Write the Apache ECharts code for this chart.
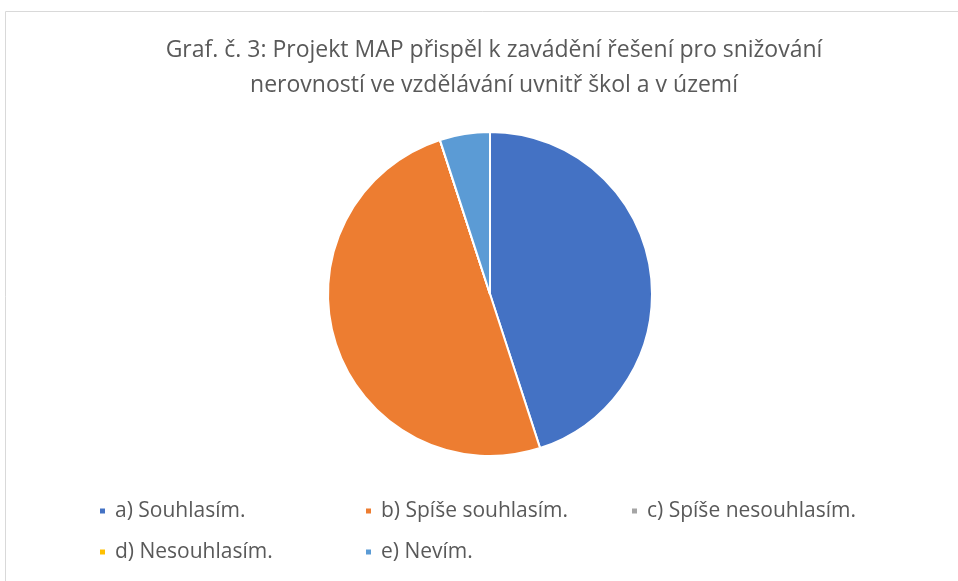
<!DOCTYPE html>
<html>
<head>
<meta charset="utf-8">
<script src="https://cdn.jsdelivr.net/npm/echarts@6/dist/echarts.min.js"></script>
<style>
  html, body { margin: 0; padding: 0; background: #ffffff; }
  #chart { width: 958px; height: 581px; }
</style>
</head>
<body>
<div id="chart"></div>
<script>
// data (answer counts)
var categories = ['a) Souhlasím.', 'b) Spíše souhlasím.', 'c) Spíše nesouhlasím.', 'd) Nesouhlasím.', 'e) Nevím.'];
var answers = [9, 10, 0, 0, 1];
var colors = ['#4472C4', '#ED7D31', '#A5A5A5', '#FFC000', '#5B9BD5'];
var titleText = 'Graf. č. 3: Projekt MAP přispěl k zavádění řešení pro snižování\nnerovností ve vzdělávání uvnitř škol a v území';

var font = '"Open Sans", "Noto Sans", sans-serif';

var chart = echarts.init(document.getElementById('chart'));

var legendBase = {
  orient: 'horizontal',
  left: 98,
  padding: 0,
  itemWidth: 7,
  itemHeight: 7,
  itemGap: 5,
  icon: 'rect',
  selectedMode: false,
  textStyle: {
    color: '#595959',
    fontFamily: font,
    fontSize: 21,
    lineHeight: 22,
    padding: [0, 0, 0, 4],
    width: 244
  }
};

chart.setOption({
  animation: false,
  color: colors,
  title: {
    text: titleText,
    left: 489,
    top: 28,
    textAlign: 'center',
    textStyle: {
      color: '#595959',
      fontFamily: font,
      fontSize: 23,
      fontWeight: 'normal',
      lineHeight: 35
    }
  },
  graphic: [{
    type: 'rect',
    silent: true,
    shape: { x: 5.5, y: 11.5, width: 1000, height: 1000 },
    style: { fill: 'none', stroke: '#d9d9d9', lineWidth: 1 }
  }],
  legend: [
    Object.assign({}, legendBase, { top: 500, data: categories.slice(0, 3) }),
    Object.assign({}, legendBase, { top: 541, data: categories.slice(3) })
  ],
  series: [{
    type: 'pie',
    center: [490, 294],
    radius: 162,
    startAngle: 90,
    clockwise: true,
    label: { show: false },
    labelLine: { show: false },
    itemStyle: { borderColor: '#ffffff', borderWidth: 2 },
    emphasis: { disabled: true },
    data: categories.map(function (c, i) {
      return { name: c, value: answers[i] };
    })
  }]
});
</script>
</body>
</html>
